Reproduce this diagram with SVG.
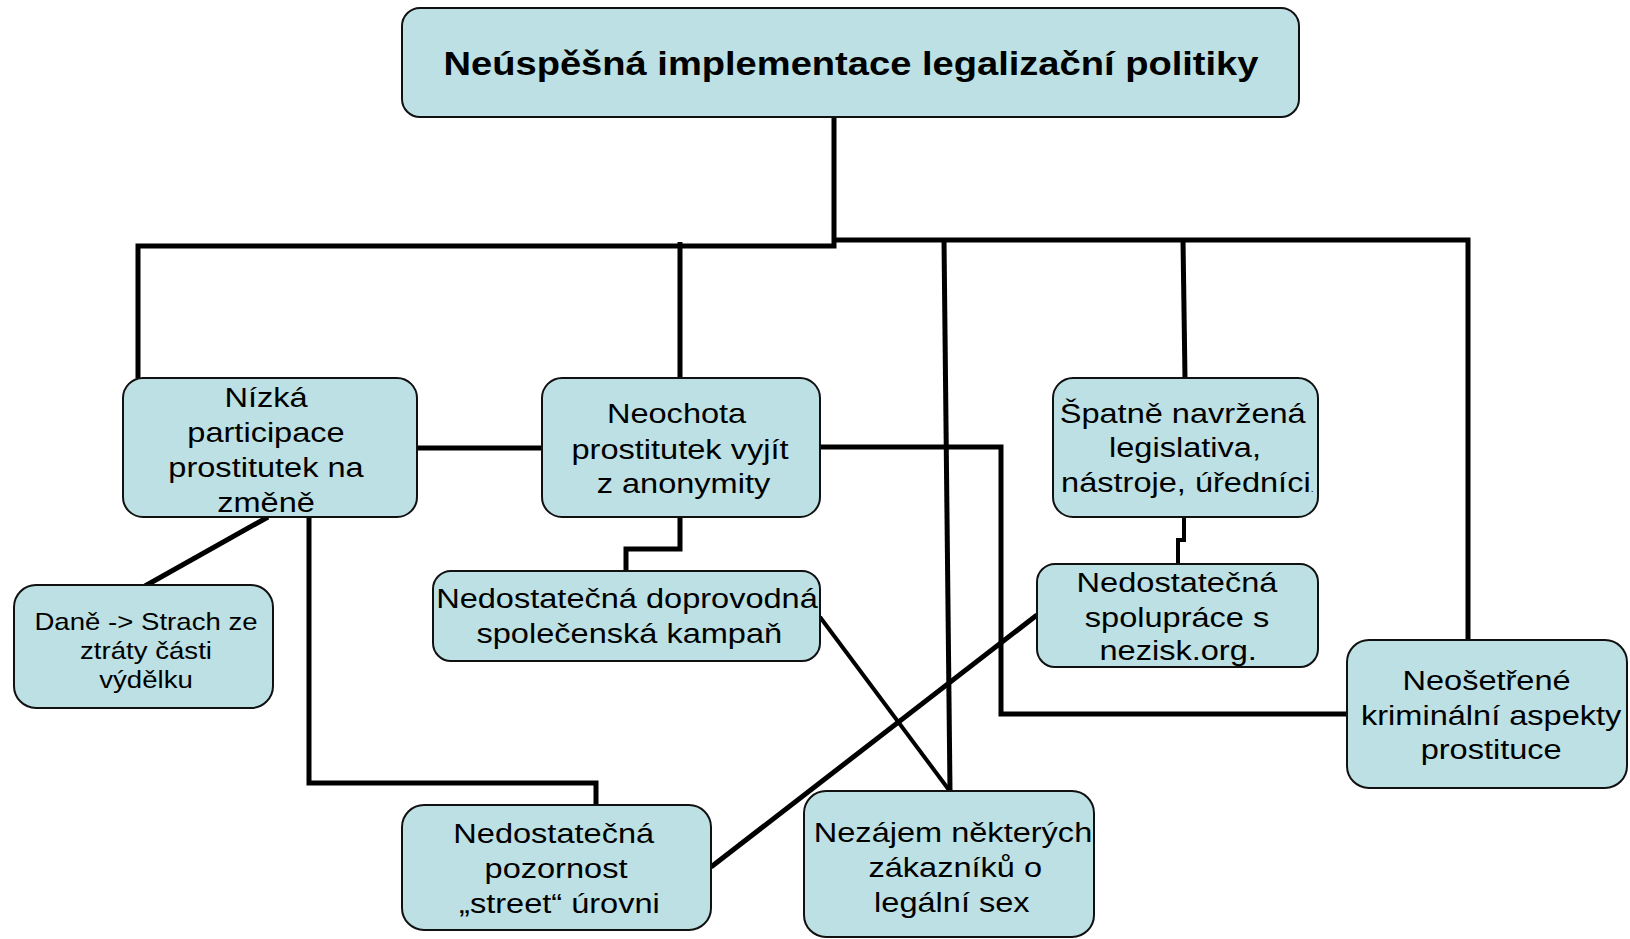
<svg xmlns="http://www.w3.org/2000/svg" width="1630" height="939" viewBox="0 0 1630 939">
<style>
.box{fill:#BCE0E3;stroke:#111;stroke-width:2}
.c{fill:none;stroke:#000;stroke-width:5;stroke-linejoin:miter}
.t{font-family:"Liberation Sans",Arial,sans-serif;font-size:28.3px;fill:#000;text-anchor:middle}
.s{font-family:"Liberation Sans",Arial,sans-serif;font-size:24px;fill:#000;text-anchor:middle}
.h{font-family:"Liberation Sans",Arial,sans-serif;font-size:33px;font-weight:bold;fill:#000;text-anchor:middle}
</style>
<rect width="1630" height="939" fill="#fff"/>
<g id="connectors">
<path class="c" d="M834,117 V246 H138 V378"/>
<path class="c" d="M834,240 H1468 V640"/>
<path class="c" d="M680,242 V378"/>
<path class="c" d="M944,240 L950,791"/>
<path class="c" d="M1183,240 L1185,378"/>
<path class="c" d="M417,448 H542"/>
<path class="c" d="M820,447 H1001 V714 H1347"/>
<path class="c" d="M268,517 L145,586"/>
<path class="c" d="M309,517 V783 H596 V805"/>
<path class="c" d="M680,517 V549 H626 V571"/>
<path class="c" d="M820,617 L949,790" style="stroke-width:4"/>
<path class="c" d="M711,867 L1037,615"/>
<path class="c" d="M1184,517 V540 H1178 V564" style="stroke-width:4"/>
</g>
<g id="n_title">
<rect class="box" x="402" y="8" width="897" height="109" rx="18"/>
<text class="h" transform="matrix(1.155,0,0,1,851,0)"><tspan x="0" y="75">Neúspěšná implementace legalizační politiky</tspan></text>
</g>
<g id="n_nizka">
<rect class="box" x="123" y="378" width="294" height="139" rx="20"/>
<text class="t" transform="matrix(1.15,0,0,1,266,0)"><tspan x="0" y="407">Nízká</tspan><tspan x="0" y="442">participace</tspan><tspan x="0" y="477">prostitutek na</tspan><tspan x="0" y="512">změně</tspan></text>
</g>
<g id="n_neochota">
<rect class="box" x="542" y="378" width="278" height="139" rx="20"/>
<text class="t" transform="matrix(1.15,0,0,1,680,0)"><tspan x="-3" y="423">Neochota</tspan><tspan x="0" y="459">prostitutek vyjít</tspan><tspan x="3" y="493">z anonymity</tspan></text>
</g>
<g id="n_spatne">
<rect class="box" x="1053" y="378" width="265" height="139" rx="20"/>
<text class="t" transform="matrix(1.15,0,0,1,1185,0)"><tspan x="-2" y="423">Špatně navržená</tspan><tspan x="0" y="457">legislativa,</tspan><tspan x="2" y="492">nástroje, úředníci<tspan font-size="9">.</tspan></tspan></text>
</g>
<g id="n_dane">
<rect class="box" x="14" y="585" width="259" height="123" rx="22"/>
<text class="s" transform="matrix(1.15,0,0,1,146,0)"><tspan x="0" y="630">Daně -&gt; Strach ze</tspan><tspan x="0" y="659">ztráty části</tspan><tspan x="0" y="688">výdělku</tspan></text>
</g>
<g id="n_kampan">
<rect class="box" x="433" y="571" width="387" height="90" rx="18"/>
<text class="t" transform="matrix(1.15,0,0,1,627,0)"><tspan x="0" y="608">Nedostatečná doprovodná</tspan><tspan x="2" y="643">společenská kampaň</tspan></text>
</g>
<g id="n_spoluprace">
<rect class="box" x="1037" y="564" width="281" height="103" rx="18"/>
<text class="t" transform="matrix(1.15,0,0,1,1177,0)"><tspan x="0" y="592">Nedostatečná</tspan><tspan x="0" y="627">spolupráce s</tspan><tspan x="1" y="660">nezisk.org.</tspan></text>
</g>
<g id="n_neosetrene">
<rect class="box" x="1347" y="640" width="280" height="148" rx="22"/>
<text class="t" transform="matrix(1.15,0,0,1,1490,0)"><tspan x="-3" y="690">Neošetřené</tspan><tspan x="1" y="725">kriminální aspekty</tspan><tspan x="1" y="759">prostituce</tspan></text>
</g>
<g id="n_pozornost">
<rect class="box" x="402" y="805" width="309" height="125" rx="22"/>
<text class="t" transform="matrix(1.15,0,0,1,556,0)"><tspan x="-2" y="843">Nedostatečná</tspan><tspan x="0" y="878">pozornost</tspan><tspan x="3" y="913">„street“ úrovni</tspan></text>
</g>
<g id="n_nezajem">
<rect class="box" x="804" y="791" width="290" height="146" rx="22"/>
<text class="t" transform="matrix(1.15,0,0,1,953,0)"><tspan x="0" y="842">Nezájem některých</tspan><tspan x="2" y="877">zákazníků o</tspan><tspan x="-1" y="912">legální sex</tspan></text>
</g>
</svg>
